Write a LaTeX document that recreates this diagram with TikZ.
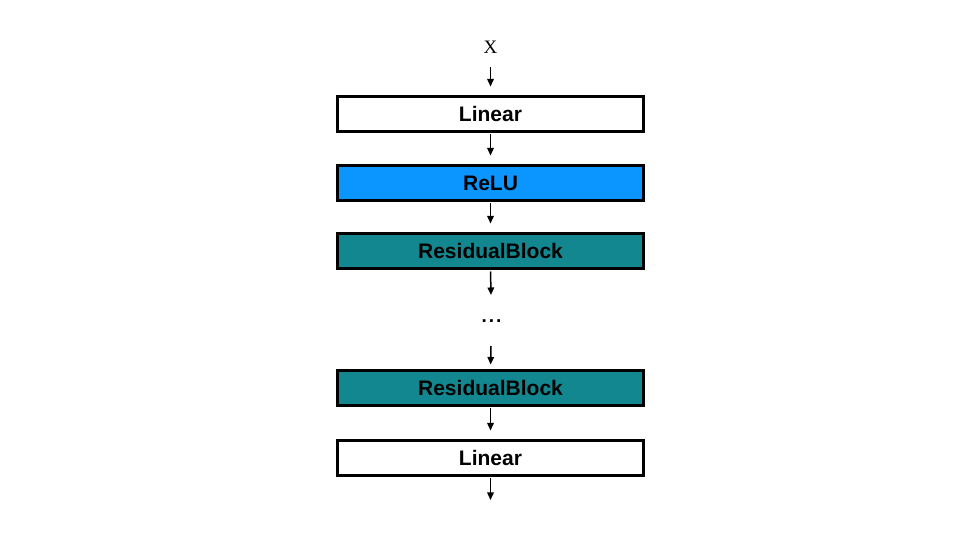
\documentclass[tikz,border=0pt]{standalone}
\usepackage{fontspec}
\setmainfont{Liberation Serif}
\setsansfont{Liberation Sans}
\usetikzlibrary{arrows.meta}

\definecolor{relublue}{RGB}{10,149,255}
\definecolor{resteal}{RGB}{18,135,143}

\tikzset{
  layer/.style={draw=black, line width=3pt, minimum width=306pt, minimum height=35pt,
                inner sep=0pt, font=\sffamily\bfseries\fontsize{21}{21}\selectfont},
  flow/.style={-{Triangle[width=6.5pt,length=7.5pt]}, line width=1.5pt}
}

\begin{document}
\begin{tikzpicture}[x=1pt,y=1pt]
   \useasboundingbox (0,0) rectangle (960,540);
   \node[anchor=base, inner sep=0pt, font=\fontsize{19}{19}\selectfont] (x) at (490.5,486) {X};
   \node[layer, fill=white]     (lin1) at (490.5,426) {Linear};
   \node[layer, fill=relublue]  (relu) at (490.5,357) {ReLU};
   \node[layer, fill=resteal]   (res1) at (490.5,289) {ResidualBlock};
   \node[anchor=base, inner sep=0pt, font=\sffamily\bfseries\fontsize{19}{19}\selectfont] (dots) at (491.5,217) {.\kern2pt.\kern2pt.};
   \node[layer, fill=resteal]   (res2) at (490.5,152) {ResidualBlock};
   \node[layer, fill=white]     (lin2) at (490.5,82) {Linear};
   \coordinate (out) at (490.5,40);
   \draw[flow, shorten <=13pt, shorten >=8.5pt] (x.south) -- (lin1.north);
   \draw[flow, shorten <=1.5pt, shorten >=8.5pt] (lin1.south) -- (relu.north);
   \draw[flow, shorten <=1.5pt, shorten >=8.5pt] (relu.south) -- (res1.north);
   \draw[flow, shorten <=1.5pt, shorten >=25pt] (res1.south) -- (dots.north);
   \draw[flow, shorten <=23pt, shorten >=4.5pt] (dots.south) -- (res2.north);
   \draw[flow, shorten <=1.5pt, shorten >=8.5pt] (res2.south) -- (lin2.north);
   \draw[flow, shorten <=1.5pt] (lin2.south) -- (out);
\end{tikzpicture}
\end{document}
